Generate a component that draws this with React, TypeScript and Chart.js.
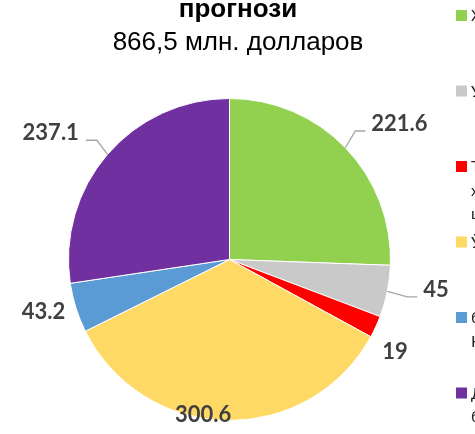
import React, { useEffect, useRef } from "react";
import { Chart, registerables } from "chart.js";

Chart.register(...registerables);

// ---- data ----
const categories = [
  "Хизматлар",
  "Уй-жой қурилиши",
  "Транспорт ва алоқа",
  "Ўрта ва кичик бизнес",
  "бошқа тармоқлар",
  "Давлат бюджети",
];
const legendLines: string[][] = [
  ["Хизматлар"],
  ["Уй-жой қурилиши"],
  ["Транспорт ва", "хизматлар", "шу жумладан"],
  ["Ўрта ва кичик бизнес"],
  ["бошқа тармоқлар", "Нефть-газ"],
  ["Давлат", "бюджети"],
];
const values = [221.6, 45, 19, 300.6, 43.2, 237.1];
const colors = ["#92D050", "#C9C9C9", "#FF0000", "#FFD966", "#5B9BD5", "#7030A0"];
const titleLines = ["прогнози", "866,5 млн. долларов"];

// ---- label placement (relative to each slice's mid-angle) ----
const labelAngleShift = [5.2, -3.3, 4.1, 8.6, 1.9, -5.3];
const labelDistRatio = [1.354, 1.296, 1.174, 0.974, 1.199, 1.363];
const showLeader = [true, true, false, false, false, true];

const W = 475;
const H = 434;

const overlayPlugin = {
  id: "overlay",
  afterDatasetsDraw(chart: any) {
    const ctx: CanvasRenderingContext2D = chart.ctx;
    const meta = chart.getDatasetMeta(0);
    ctx.save();

    // title
    ctx.fillStyle = "#000000";
    ctx.textAlign = "center";
    ctx.textBaseline = "alphabetic";
    ctx.font = "bold 26px 'Liberation Sans', Arial, sans-serif";
    ctx.fillText(titleLines[0], 238, 17);
    ctx.font = "26px 'Liberation Sans', Arial, sans-serif";
    ctx.fillText(titleLines[1], 238, 50);

    // data labels
    const labelFont = "bold 22px Lato, sans-serif";
    const capH = 22 * 0.72;
    meta.data.forEach((arc: any, i: number) => {
      const p = arc.getProps(["x", "y", "startAngle", "endAngle", "outerRadius"], true);
      const mid = (p.startAngle + p.endAngle) / 2;
      const la = mid + (labelAngleShift[i] * Math.PI) / 180;
      const ld = labelDistRatio[i] * p.outerRadius;
      const cx = p.x + ld * Math.cos(la);
      const cy = p.y + ld * Math.sin(la);
      const text = String(values[i]);
      ctx.font = labelFont;
      const w = ctx.measureText(text).width;
      ctx.fillStyle = "#404040";
      ctx.textAlign = "center";
      ctx.textBaseline = "alphabetic";
      ctx.fillText(text, cx, cy + capH / 2);

      if (showLeader[i]) {
        const sx = p.x + p.outerRadius * Math.cos(mid);
        const sy = p.y + p.outerRadius * Math.sin(mid);
        const right = cx > p.x;
        const lineY = cy + 8;
        const endX = right ? cx - w / 2 - 6 : cx + w / 2 + 7;
        const elbowX = right ? endX - 10 : endX + 11;
        ctx.strokeStyle = "#A6A6A6";
        ctx.lineWidth = 1.3;
        ctx.beginPath();
        ctx.moveTo(sx, sy);
        ctx.lineTo(elbowX, lineY);
        ctx.lineTo(endX, lineY);
        ctx.stroke();
      }
    });

    // legend
    ctx.font = "16px Lato, sans-serif";
    ctx.textAlign = "left";
    ctx.textBaseline = "middle";
    legendLines.forEach((lines, i) => {
      const top = 10 + i * 75.5;
      ctx.fillStyle = colors[i];
      ctx.fillRect(456, top, 11, 11);
      ctx.fillStyle = "#262626";
      lines.forEach((ln, j) => {
        ctx.fillText(ln, 471, top + 6 + j * 23.5);
      });
    });

    ctx.restore();
  },
};

export default function App() {
  const ref = useRef<HTMLCanvasElement | null>(null);
  useEffect(() => {
    document.body.style.margin = "0";
    document.body.style.overflow = "hidden";
    const canvas = ref.current;
    if (!canvas) return;
    const chart = new Chart(canvas, {
      type: "pie",
      data: {
        labels: categories,
        datasets: [
          {
            data: values,
            backgroundColor: colors,
            borderColor: "#FFFFFF",
            borderWidth: 1,
          },
        ],
      },
      options: {
        responsive: false,
        animation: false,
        devicePixelRatio: 1,
        layout: { padding: { left: 68, top: 98, right: 84, bottom: 13 } },
        plugins: {
          legend: { display: false },
          tooltip: { enabled: false },
          title: { display: false },
        },
      },
      plugins: [overlayPlugin],
    });
    return () => chart.destroy();
  }, []);
  return (
    <div style={{ position: "fixed", left: 0, top: 0, width: W, height: H, background: "#fff" }}>
      <canvas ref={ref} width={W} height={H} style={{ display: "block" }} />
    </div>
  );
}
